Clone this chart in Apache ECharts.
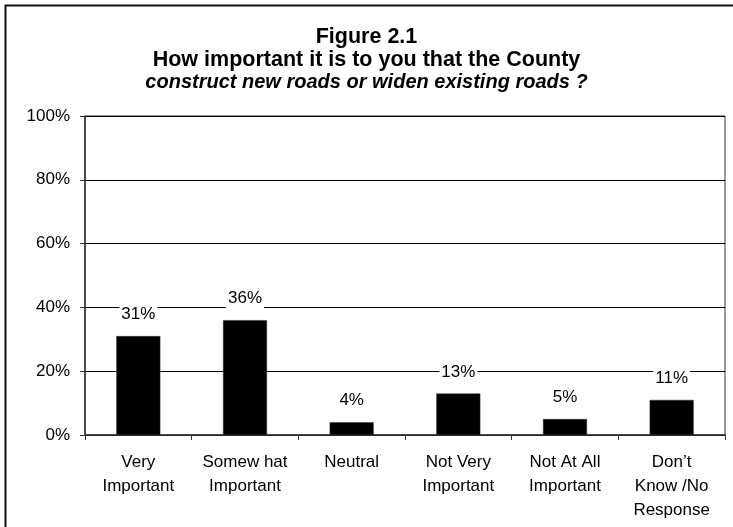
<!DOCTYPE html>
<html>
<head>
<meta charset="utf-8">
<style>
  html, body { margin: 0; padding: 0; background: #fff; }
  #chart { width: 733px; height: 527px; }
</style>
<script src="https://cdn.jsdelivr.net/npm/echarts@6/dist/echarts.min.js"></script>
</head>
<body>
<div id="chart"></div>
<script>
// Survey responses: importance of building new roads / widening existing ones
const categories = [
  'Very\nImportant',
  'Somew hat\nImportant',
  'Neutral',
  'Not Very\nImportant',
  'Not At All\nImportant',
  'Don\u2019t\nKnow /No\nResponse'
];
const percentValues = [31, 36, 4, 13, 5, 11];
const yTicks = [0, 20, 40, 60, 80, 100];

const titleLines = [
  'Figure 2.1',
  'How important it is to you that the County',
  'construct new roads or widen existing roads ?'
];

const FONT = '"Liberation Sans", Arial, Helvetica, sans-serif';

const chart = echarts.init(document.getElementById('chart'), null, { renderer: 'canvas' });

chart.setOption({
  backgroundColor: '#ffffff',
  animation: false,
  title: {
    text: '{a|' + titleLines[0] + '}\n{a|' + titleLines[1] + '}\n{b|' + titleLines[2] + '}',
    left: 'center',
    top: 21,
    textStyle: {
      rich: {
        a: { fontFamily: FONT, fontSize: 21.5, fontWeight: 'bold', color: '#000', lineHeight: 22.5, align: 'center' },
        b: { fontFamily: FONT, fontSize: 20, fontWeight: 'bold', fontStyle: 'italic', color: '#000', lineHeight: 22.5, align: 'center' }
      }
    }
  },
  graphic: [
    {
      type: 'rect',
      left: 3, top: 3,
      shape: { width: 745, height: 545 },
      style: { fill: 'none', stroke: '#111', lineWidth: 2 },
      silent: true
    }
  ],
  grid: {
    left: 85, right: 8, top: 116, bottom: 92,
    show: true,
    borderColor: '#333',
    borderWidth: 1,
    backgroundColor: 'transparent'
  },
  xAxis: {
    type: 'category',
    data: categories,
    axisLine: { show: true, lineStyle: { color: '#333', width: 1.5 } },
    axisTick: { show: true, alignWithLabel: false, length: 5, lineStyle: { color: '#333' } },
    axisLabel: {
      interval: 0,
      margin: 15,
      fontFamily: FONT,
      fontSize: 17,
      lineHeight: 24,
      color: '#000'
    },
    splitLine: { show: false }
  },
  yAxis: {
    type: 'value',
    min: 0,
    max: 100,
    interval: 20,
    axisLine: { show: true, lineStyle: { color: '#333', width: 1.5 } },
    axisTick: { show: true, length: 5, lineStyle: { color: '#333' } },
    axisLabel: {
      margin: 15,
      fontFamily: FONT,
      fontSize: 17,
      color: '#000',
      formatter: function (v) { return yTicks.indexOf(v) >= 0 ? v + '%' : ''; }
    },
    splitLine: { show: true, lineStyle: { color: '#000', width: 1 } }
  },
  series: [
    {
      type: 'bar',
      data: percentValues,
      barWidth: 44,
      itemStyle: { color: '#000', borderColor: '#333', borderWidth: 0.5 },
      label: {
        show: true,
        position: 'top',
        distance: 12,
        formatter: '{c}%',
        fontFamily: FONT,
        fontSize: 17,
        color: '#000',
        backgroundColor: '#fff',
        padding: [1, 2]
      }
    }
  ]
});
</script>
</body>
</html>
